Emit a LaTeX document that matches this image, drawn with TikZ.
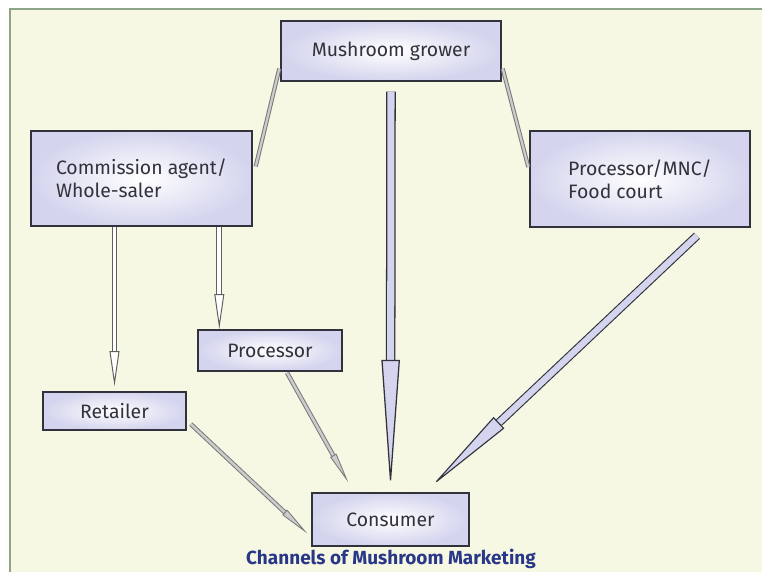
\documentclass[tikz,border=0pt]{standalone}
\usepackage{fontspec}
\setmainfont{Fira Sans}
\usepackage{tikz}
\usetikzlibrary{arrows.meta, calc, positioning}
\definecolor{mycream}{RGB}{246,248,228}
\definecolor{mygreen}{RGB}{140,165,135}
\definecolor{mydark}{RGB}{50,50,60}
\definecolor{mygray}{RGB}{120,120,120}
\definecolor{mylav}{RGB}{212,212,238}
\definecolor{myblue}{RGB}{40,55,135}
\tikzset{
  box/.style={rectangle, draw=mydark, line width=1pt,
    inner color=white, outer color=mylav,
    font=\fontsize{13.8}{16.5}\selectfont, text=mydark, align=left},
  bigarrow/.style={draw=mydark, line width=0.9pt, double=mylav, double distance=5pt,
    -{Stealth[length=92pt, width=13pt, inset=0pt, line width=0.9pt, fill=mylav]}},
  midarrow/.style={draw=mydark, line width=0.8pt, double=mylav, double distance=4.5pt,
    -{Stealth[length=66pt, width=11pt, inset=0pt, line width=0.8pt, fill=mylav]}},
  smallarrow/.style={draw=mygray!80!black, line width=0.7pt, double=white, double distance=2.6pt,
    -{Stealth[length=25pt, width=7pt, inset=0pt, line width=0.7pt, fill=white]}},
  greyarrow/.style={draw=mygray, line width=0.7pt, double=gray!40, double distance=1.8pt,
    -{Stealth[length=22pt, width=5pt, inset=0pt, line width=0.6pt, fill=gray!40]}},
  greyline/.style={draw=mygray, line width=0.7pt, double=gray!40, double distance=1.6pt}
}
\begin{document}
\begin{tikzpicture}[x=0.025cm, y=-0.025cm]
  \useasboundingbox (0,0) rectangle (762,572);
  \fill[white] (0,0) rectangle (762,572);
  \fill[mycream] (10,9) rectangle (762,572);
  % frame
  \draw[mygreen, line width=1.4pt] (10,572) -- (10,9) -- (762,9);

  % boxes
  \node[box, minimum width=220*0.025cm, minimum height=60*0.025cm] (grower) at (391,51) {Mushroom grower};
  \node[box, minimum width=221*0.025cm, minimum height=95*0.025cm] (agent) at (141.5,178.5) {Commission agent/\\Whole-saler};
  \node[box, minimum width=220*0.025cm, minimum height=96*0.025cm] (mnc) at (640,179) {Processor/MNC/\\Food court};
  \node[box, minimum width=144*0.025cm, minimum height=41*0.025cm] (proc) at (270,350.5) {Processor};
  \node[box, minimum width=143*0.025cm, minimum height=38*0.025cm] (retail) at (114.5,411) {Retailer};
  \node[box, minimum width=157*0.025cm, minimum height=53*0.025cm] (consumer) at (390.5,519.5) {Consumer};
  \node[font=\bfseries\fontsize{13.5}{16}\selectfont, text=myblue, inner sep=1pt] (caption) at (391,559) {Channels of Mushroom Marketing};

  % grower to the two traders
  \draw[greyline] ($(grower.south west)+(-1,-13)$) -- ($(agent.east)+(3,-12)$);
  \draw[greyline] ($(grower.south east)+(1,-13)$) -- ($(mnc.west)+(-1,-12)$);

  % channels down to the consumer
  \draw[bigarrow] ($(grower.south)+(0,10)$) -- ($(consumer.north)+(0,-3)$);
  \draw[smallarrow] (retail.north |- agent.south) -- ($(retail.north)+(0,-5)$);
  \coordinate (procin) at ($(proc.north west)+(22,0)$);
  \draw[smallarrow] (procin |- agent.south) -- (procin);
  \draw[greyarrow] ($(proc.south)+(17,1)$) -- ($(consumer.north west)+(37,-10)$);
  \draw[greyarrow] ($(retail.east)+(4,13)$) -- ($(consumer.west)+(-4,14)$);
  \draw[midarrow] ($(mnc.south)+(57,8)$) -- ($(consumer.north)+(41,-6)$);
\end{tikzpicture}
\end{document}
